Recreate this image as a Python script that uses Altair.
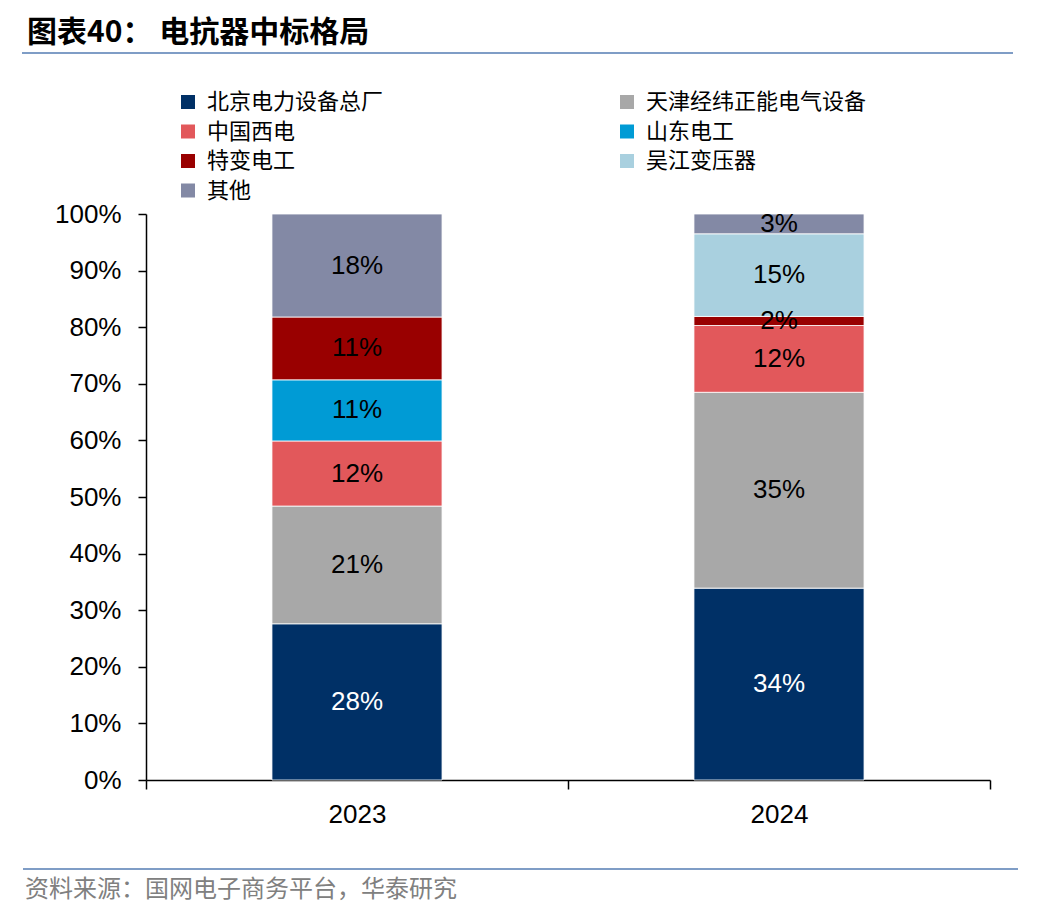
import altair as alt
import pandas as pd

companies = ["北京电力设备总厂", "天津经纬正能电气设备", "中国西电", "山东电工",
             "特变电工", "吴江变压器", "其他"]
years = ["2023", "2024"]
share_2023 = [27.6, 20.8, 11.5, 10.8, 11.1, 0.0, 18.2]
share_2024 = [33.9, 34.6, 11.8, 0.0, 1.6, 14.6, 3.5]
labels_2023 = ["28%", "21%", "12%", "11%", "11%", "", "18%"]
labels_2024 = ["34%", "35%", "12%", "", "2%", "15%", "3%"]
colors = ["#003066", "#A8A8A8", "#E2585B", "#009BD5", "#990000", "#A9D0DF", "#8389A5"]
y_ticks = list(range(0, 101, 10))

rows = []
for yr, shares, labs in zip(years, [share_2023, share_2024], [labels_2023, labels_2024]):
    base = 0.0
    for c, s, l in zip(companies, shares, labs):
        if s > 0:
            rows.append(dict(year=yr, company=c, y0=base, y1=base + s,
                             mid=base + s / 2, label=l))
        base += s
df = pd.DataFrame(rows)

x_enc = alt.X("year:N", title=None,
              scale=alt.Scale(paddingInner=0, paddingOuter=0),
              axis=alt.Axis(labelAngle=0, labelFontSize=26, labelFont="Liberation Sans",
                            labelColor="black", labelPadding=12, tickSize=9,
                            tickBand="extent", domainColor="black", tickColor="black",
                            domainWidth=1.5, tickWidth=1.5, grid=False))

bars = alt.Chart(df).mark_bar(stroke="white", strokeWidth=0.8,
                              width=alt.RelativeBandSize(0.403)).encode(
    x=x_enc,
    y=alt.Y("y0:Q", title=None, scale=alt.Scale(domain=[0, 100], nice=False),
            axis=alt.Axis(values=y_ticks, labelExpr="datum.value + '%'",
                          labelFontSize=26, labelFont="Liberation Sans",
                          labelColor="black", labelPadding=17, tickSize=8,
                          domainColor="black", tickColor="black",
                          domainWidth=1.5, tickWidth=1.5, grid=False)),
    y2="y1:Q",
    color=alt.Color("company:N",
                    scale=alt.Scale(domain=companies, range=colors),
                    legend=alt.Legend(title=None, orient="none", legendX=31, legendY=-123,
                                      direction="horizontal", columns=2,
                                      columnPadding=232, rowPadding=7.5,
                                      symbolType="square", symbolSize=196,
                                      symbolStrokeWidth=0, labelFontSize=22,
                                      labelFont="Noto Sans CJK SC", labelColor="black",
                                      labelOffset=8, padding=0, labelLimit=400)),
)

text = alt.Chart(df).mark_text(fontSize=26, font="Liberation Sans").encode(
    x=alt.X("year:N"),
    y=alt.Y("mid:Q"),
    text="label:N",
    color=alt.condition(alt.datum.company == companies[0],
                        alt.value("white"), alt.value("black")),
)

deco = alt.Data(values=[{"k": 0}])

title_layer = alt.Chart(deco).mark_text(
    align="left", baseline="middle", fontSize=30, fontWeight="bold",
    font="Noto Sans CJK SC", color="black").encode(
    x=alt.value(-119), y=alt.value(-181), text=alt.value("图表40：  电抗器中标格局"))

top_rule = alt.Chart(deco).mark_rule(color="#7F9DC6", strokeWidth=2).encode(
    x=alt.value(-124), x2=alt.value(867), y=alt.value(-161))

bottom_rule = alt.Chart(deco).mark_rule(color="#7F9DC6", strokeWidth=2).encode(
    x=alt.value(-123), x2=alt.value(872), y=alt.value(655))

source_layer = alt.Chart(deco).mark_text(
    align="left", baseline="middle", fontSize=24,
    font="Noto Sans CJK SC", color="#808080").encode(
    x=alt.value(-121), y=alt.value(676), text=alt.value("资料来源：国网电子商务平台，华泰研究"))

chart = alt.layer(bars, text, title_layer, top_rule, bottom_rule, source_layer).properties(
    width=844, height=566,
    autosize=alt.AutoSizeParams(type="none"),
    padding={"left": 138, "top": 206, "right": 50, "bottom": 130},
    background="white",
).configure_view(stroke=None)

chart.save("out.html", embed_options={"renderer": "svg", "actions": False})
